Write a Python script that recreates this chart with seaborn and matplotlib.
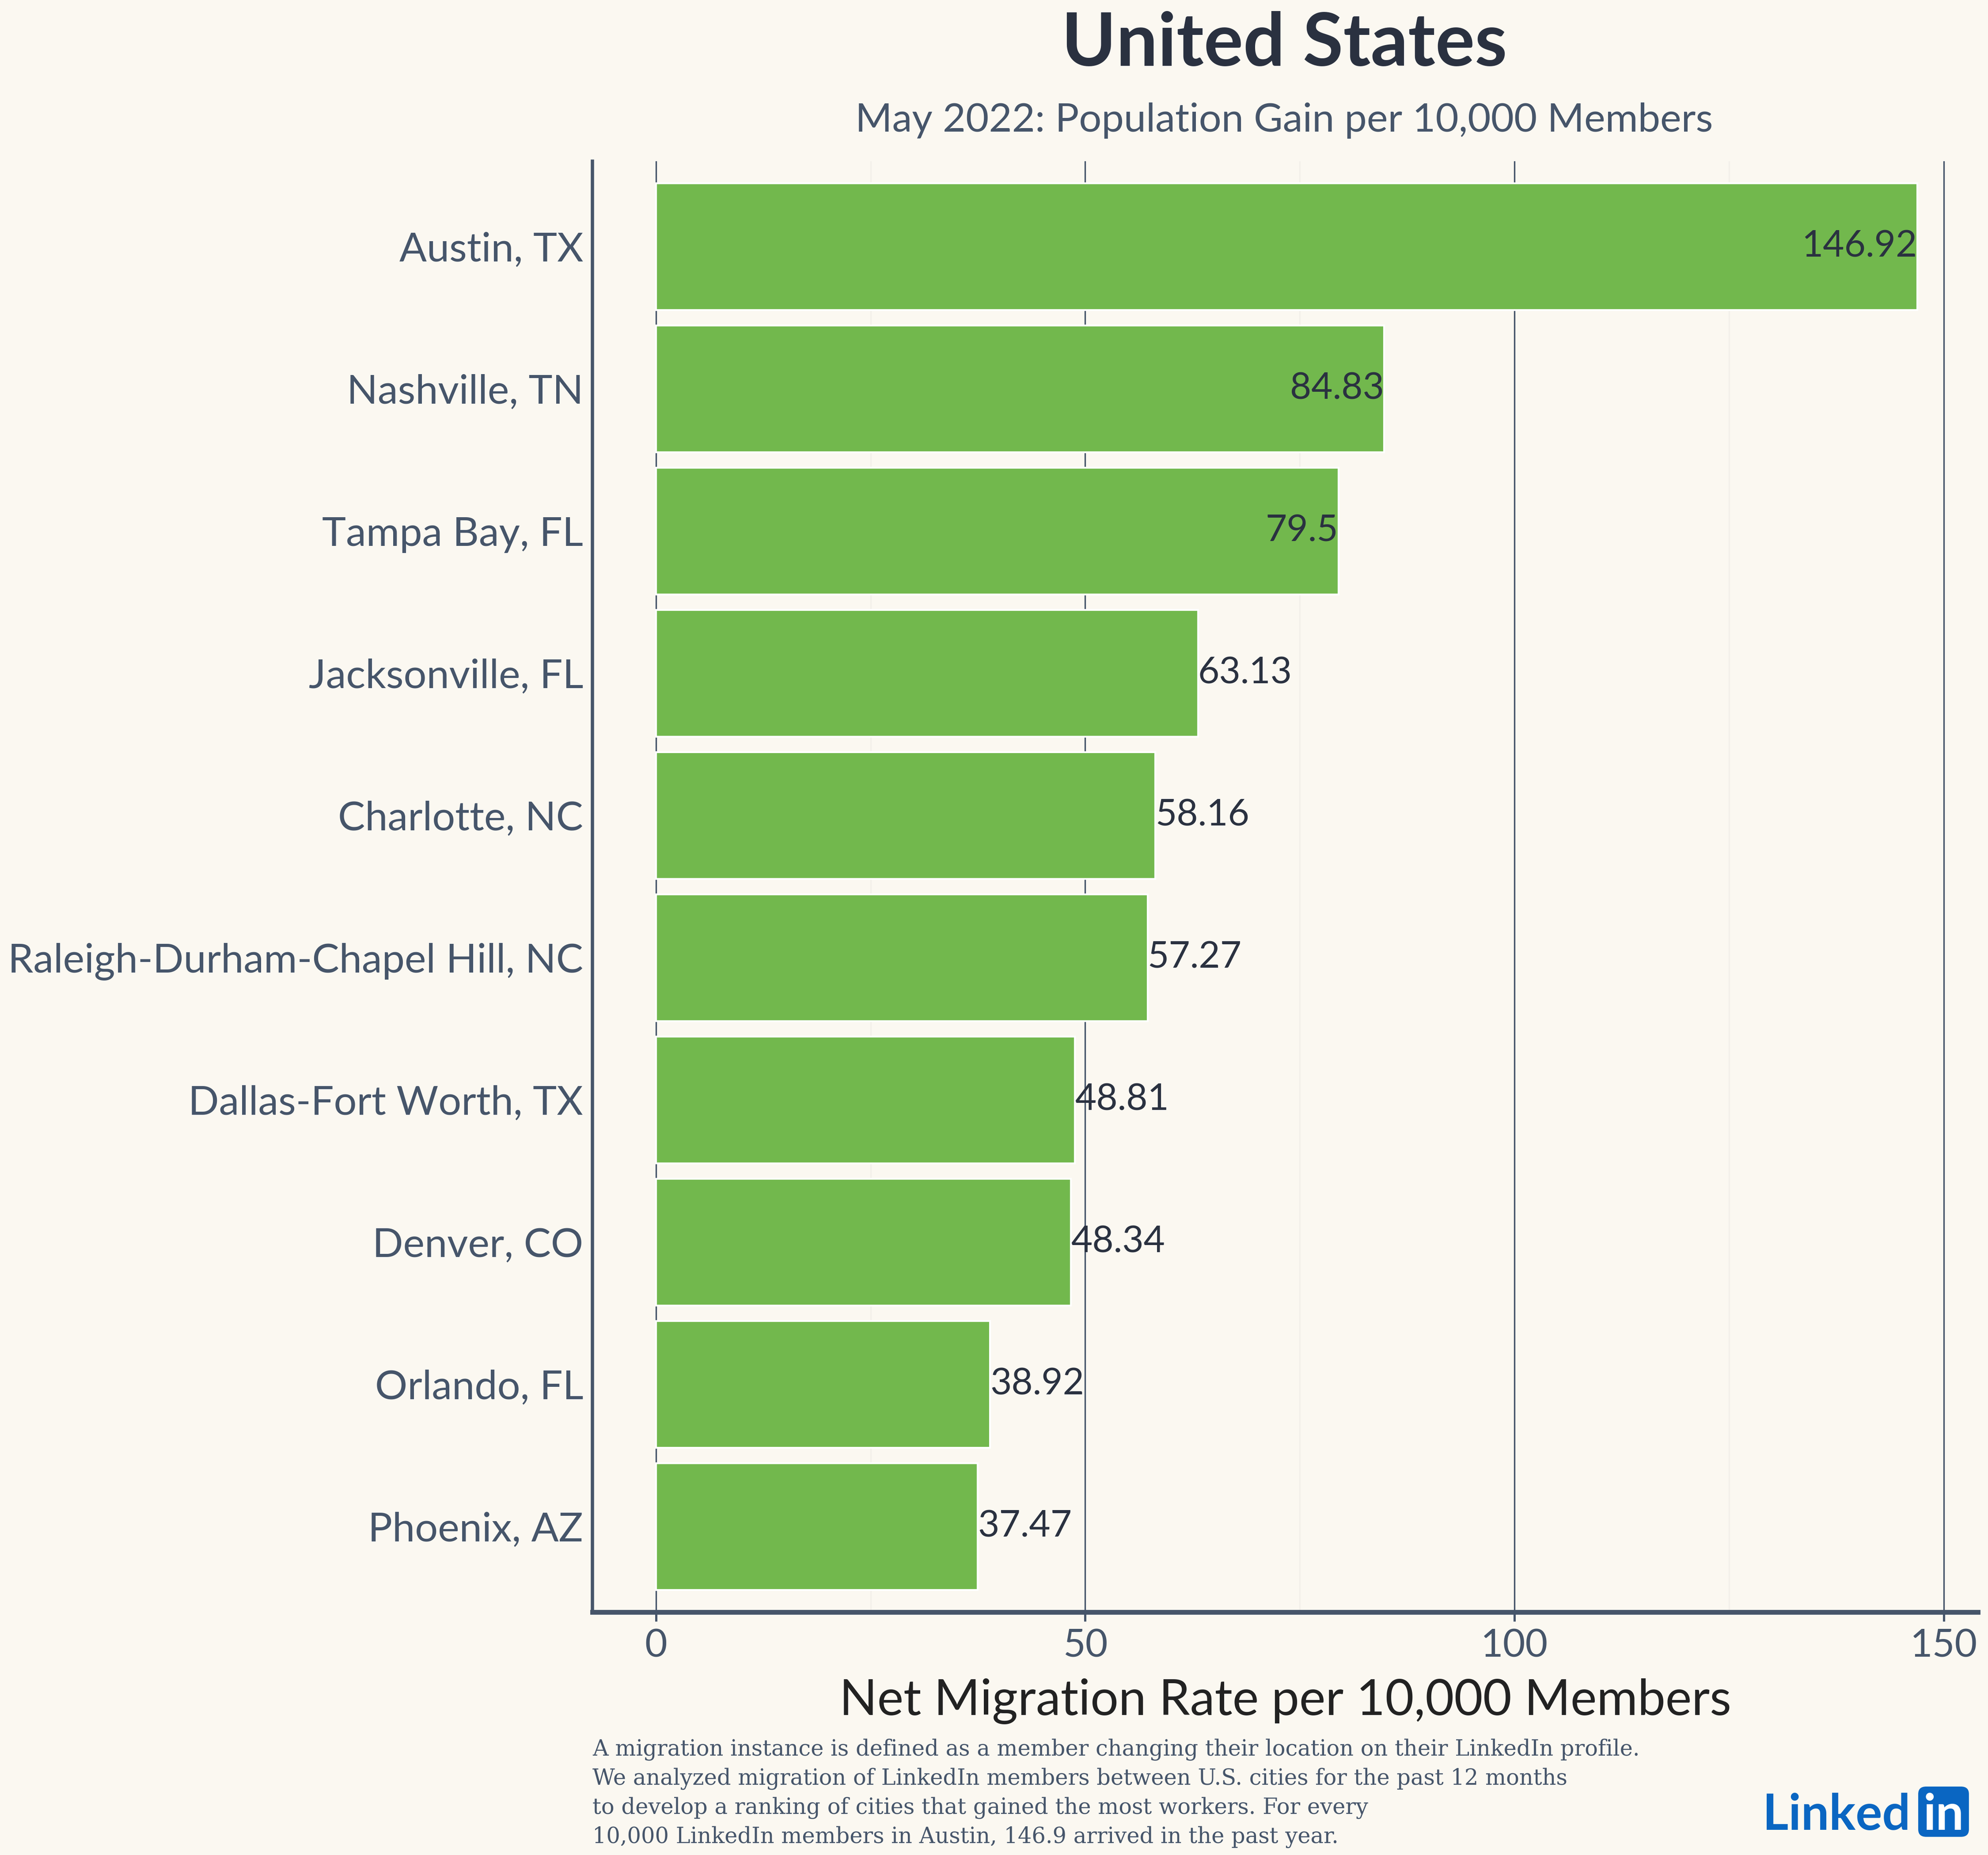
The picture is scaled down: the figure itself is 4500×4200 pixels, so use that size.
import matplotlib
matplotlib.use("Agg")
import matplotlib.pyplot as plt
from matplotlib.patches import FancyBboxPatch
import seaborn as sns
import pandas as pd

# chart data
cities = ["Austin, TX", "Nashville, TN", "Tampa Bay, FL", "Jacksonville, FL",
          "Charlotte, NC", "Raleigh-Durham-Chapel Hill, NC", "Dallas-Fort Worth, TX",
          "Denver, CO", "Orlando, FL", "Phoenix, AZ"]
rates = [146.92, 84.83, 79.5, 63.13, 58.16, 57.27, 48.81, 48.34, 38.92, 37.47]
rate_labels = ["146.92", "84.83", "79.5", "63.13", "58.16", "57.27", "48.81",
               "48.34", "38.92", "37.47"]
x_ticks = [0, 50, 100, 150]

title = "United States"
subtitle = "May 2022: Population Gain per 10,000 Members"
x_title = "Net Migration Rate per 10,000 Members"
footnote = ("A migration instance is defined as a member changing their location on their LinkedIn profile.\n"
            "We analyzed migration of LinkedIn members between U.S. cities for the past 12 months\n"
            "to develop a ranking of cities that gained the most workers. For every\n"
            "10,000 LinkedIn members in Austin, 146.9 arrived in the past year.")

BG = "#FBF8F1"
GREEN = "#72B84D"
SLATE = "#46556A"
DARK = "#2A3140"
LI_BLUE = "#0A66C2"

sns.set_style("white")
plt.rcParams['font.family'] = ['Lato', 'DejaVu Sans']

df = pd.DataFrame({"city": cities, "rate": rates})

fig = plt.figure(figsize=(15, 14), dpi=300, facecolor=BG)
ax = fig.add_axes([0.298, 0.131, 0.697, 0.782])
ax.set_facecolor(BG)

sns.barplot(data=df, x="rate", y="city", color=GREEN, saturation=1,
            width=0.89, ax=ax, zorder=3)

# value labels: inside the end for long bars, outside for short ones
for i, (v, lab) in enumerate(zip(rates, rate_labels)):
    if v > 70:
        ax.text(v, i, lab, ha="right", va="center", fontsize=20, color=DARK, zorder=4)
    else:
        ax.text(v, i, lab, ha="left", va="center", fontsize=20, color=DARK, zorder=4)

ax.set_xlim(-7.4, 154)
ax.set_ylim(9.6, -0.6)
ax.set_xticks(x_ticks)
ax.set_xticks([25, 75, 125], minor=True)
ax.grid(axis="x", which="major", color=SLATE, linewidth=0.8, zorder=0)
ax.grid(axis="x", which="minor", color="#F3F0EA", linewidth=0.8, zorder=0)
ax.grid(axis="y", visible=False)

for s in ["top", "right"]:
    ax.spines[s].set_visible(False)
ax.spines["left"].set_color(SLATE)
ax.spines["left"].set_linewidth(1.8)
ax.spines["bottom"].set_color(SLATE)
ax.spines["bottom"].set_linewidth(2.6)

ax.tick_params(axis="y", which="major", length=4, width=1.2, color=SLATE,
               labelsize=22, labelcolor=SLATE, pad=1)
ax.tick_params(axis="x", which="major", length=5, width=1.2, color=SLATE,
               labelsize=21, labelcolor=SLATE, pad=4, direction="out", bottom=True)
ax.tick_params(which="minor", length=0)

ax.set_ylabel("")
ax.set_xlabel(x_title, fontsize=27, color="#222222", labelpad=8)

fig.text(0.646, 0.976, title, ha="center", va="center", fontsize=40,
         fontweight="bold", color=DARK)
fig.text(0.646, 0.935, subtitle, ha="center", va="center", fontsize=21.6, color=SLATE)

fig.text(0.298, 0.0333, footnote, ha="left", va="center", fontsize=11.9,
         family=["DejaVu Serif"], color=SLATE, linespacing=1.42)

# LinkedIn logo
fig.text(0.961, 0.0136, "Linked", ha="right", va="baseline", fontsize=27,
         fontweight="bold", color=LI_BLUE)
logo_box = FancyBboxPatch((0.9649, 0.0098), 0.0255, 0.0271,
                          boxstyle="round,pad=0,rounding_size=0.004",
                          transform=fig.transFigure, fc=LI_BLUE, ec="none")
fig.patches.append(logo_box)
fig.text(0.9777, 0.0136, "in", ha="center", va="baseline", fontsize=27,
         fontweight="bold", color="white")

fig.savefig("out.png", dpi=300, facecolor=BG)
